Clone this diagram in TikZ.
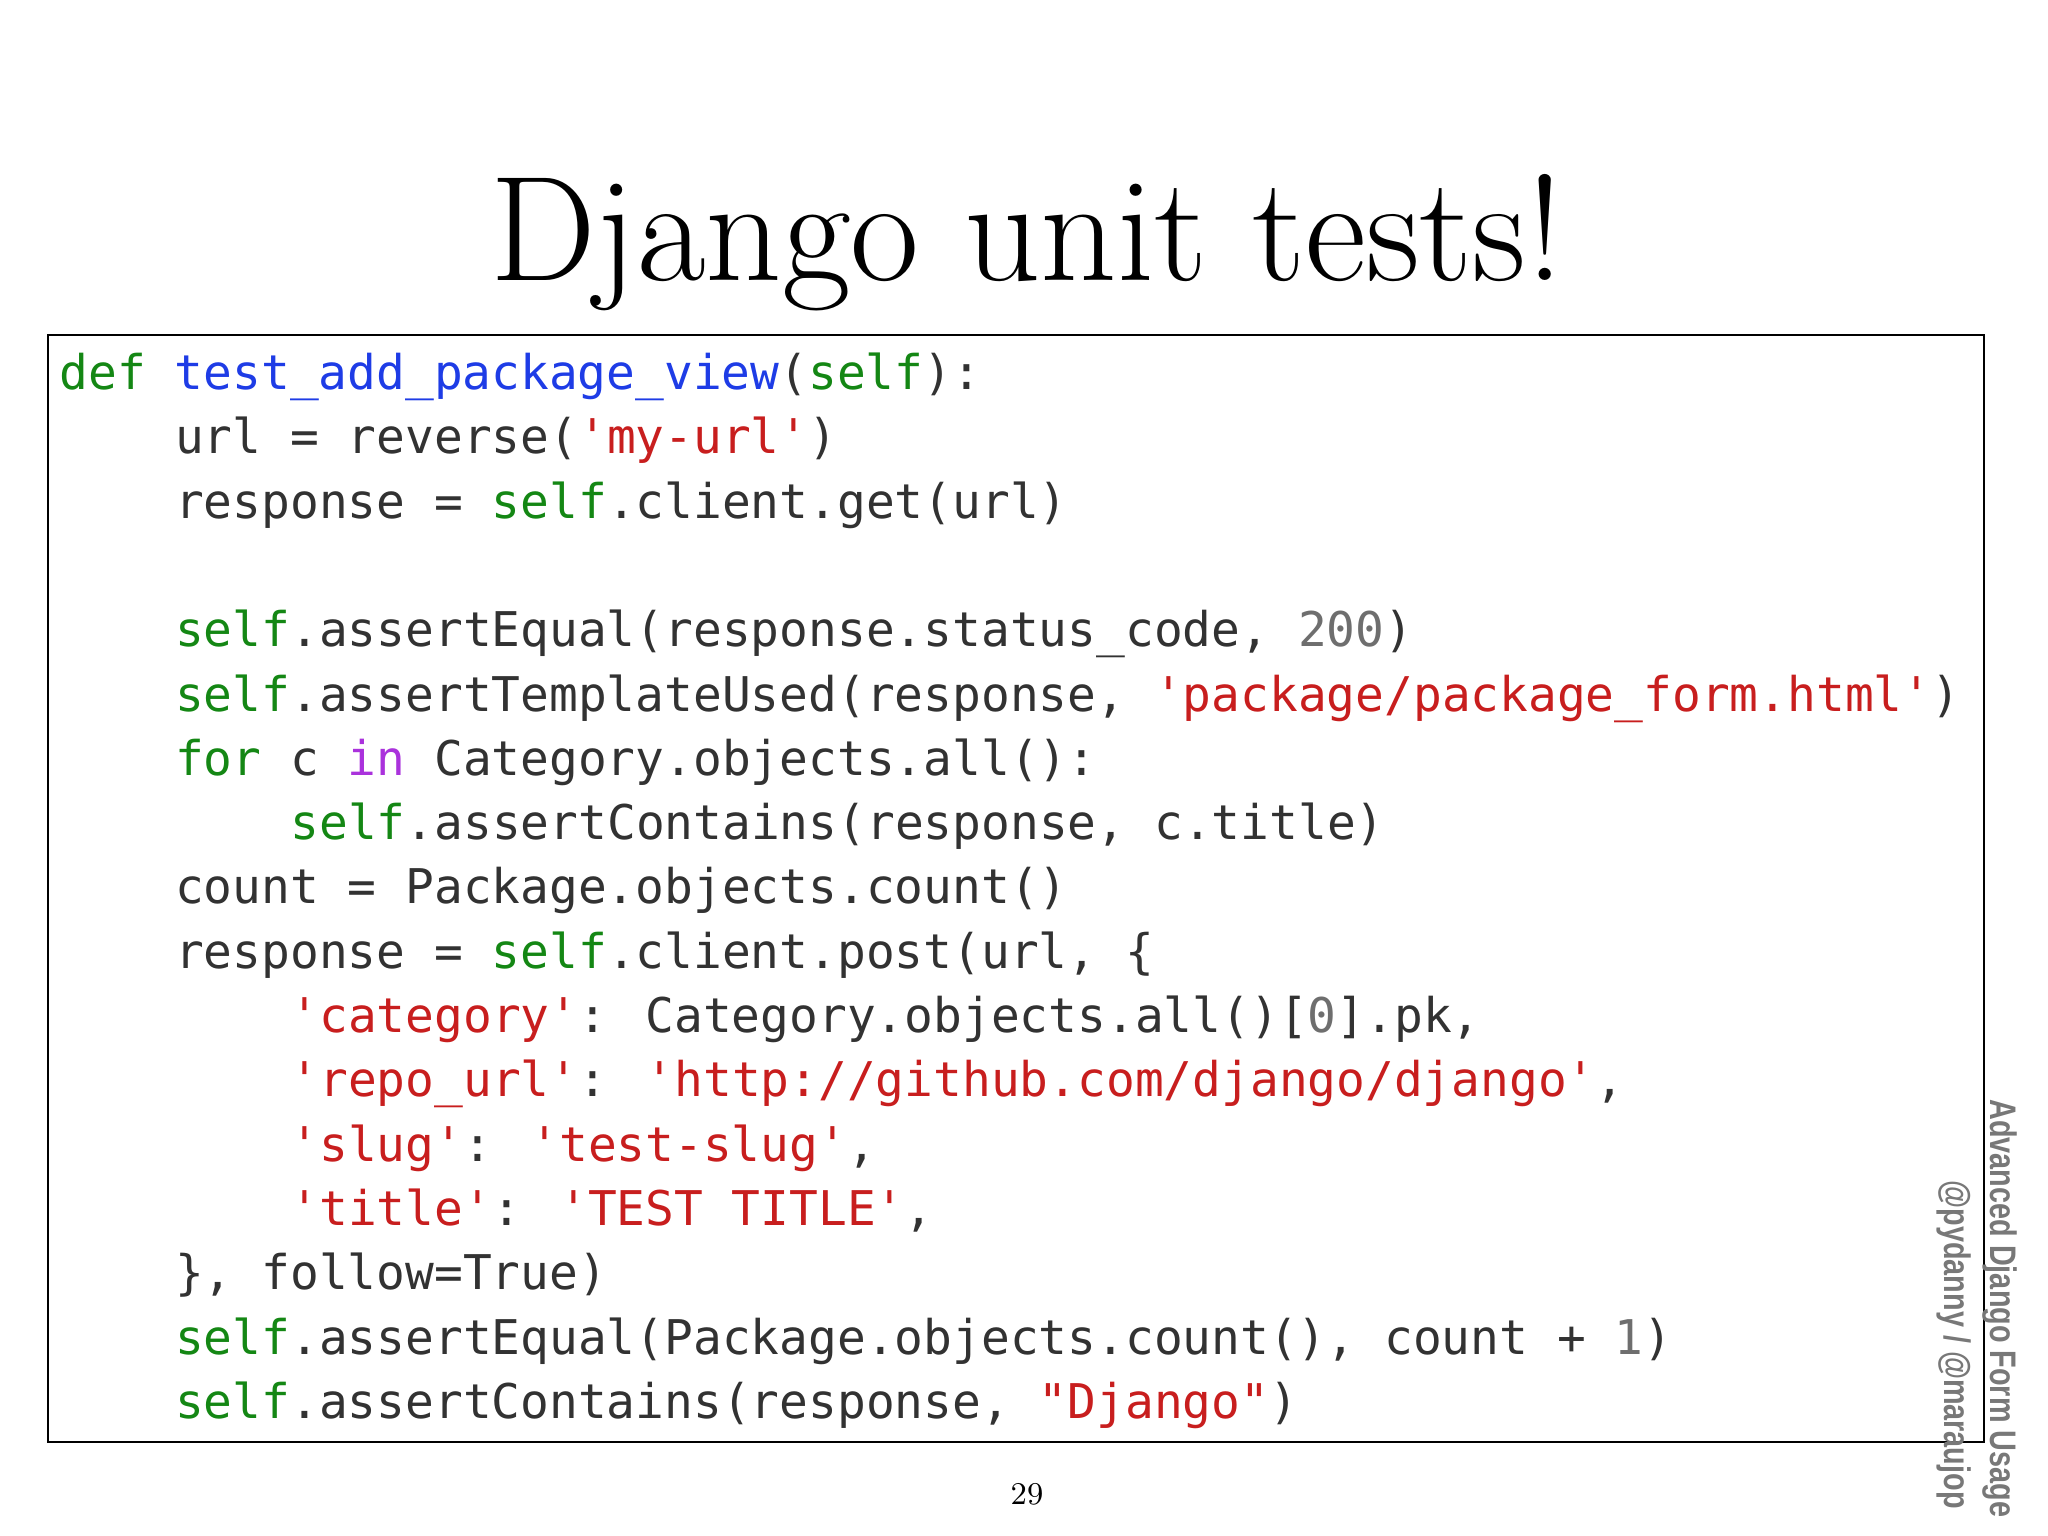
\documentclass[tikz,border=0pt]{standalone}
\usepackage{fontspec}
\newfontfamily\code{DejaVu Sans Mono}
\newfontfamily\side{Liberation Sans}
\definecolor{kw}{RGB}{20,135,20}
\definecolor{fn}{RGB}{30,60,230}
\definecolor{st}{RGB}{200,30,30}
\definecolor{nm}{RGB}{110,110,110}
\definecolor{pu}{RGB}{170,50,220}
\definecolor{tx}{RGB}{50,50,50}
\definecolor{sd}{RGB}{120,120,120}
\newcommand\Kw[1]{\textcolor{kw}{#1}}
\newcommand\Fn[1]{\textcolor{fn}{#1}}
\newcommand\St[1]{\textcolor{st}{#1}}
\newcommand\Nm[1]{\textcolor{nm}{#1}}
\newcommand\Pu[1]{\textcolor{pu}{#1}}
\begin{document}
\begin{tikzpicture}[x=0.01cm,y=-0.01cm,
  codeline/.style={anchor=base west,inner sep=0,text=tx,font=\code\fontsize{13.6pt}{16pt}\selectfont}]
\useasboundingbox (0,0) rectangle (2048,1536);
\fill[white] (0,0) rectangle (2048,1536);
\node[anchor=base,inner sep=0,font=\fontsize{42.5pt}{50pt}\selectfont] (title) at (1027,280) {Django unit tests!};
\draw[line width=0.8pt,black] (48,335) rectangle (1984,1442);
\def\cx#1{\fpeval{59+28.85*#1}}
\def\cy#1{\fpeval{389.5+64.3*#1}}
\node[codeline] (l0) at (\cx{0},\cy{0}) {\Kw{def} \Fn{test\_add\_package\_view}(\Kw{self}):};
\node[codeline] (l1) at (\cx{4},\cy{1}) {url = reverse(\St{'my-url'})};
\node[codeline] (l2) at (\cx{4},\cy{2}) {response = \Kw{self}.client.get(url)};
\node[codeline] (l4) at (\cx{4},\cy{4}) {\Kw{self}.assertEqual(response.status\_code, \Nm{200})};
\node[codeline] (l5) at (\cx{4},\cy{5}) {\Kw{self}.assertTemplateUsed(response, \St{'package/package\_form.html'})};
\node[codeline] (l6) at (\cx{4},\cy{6}) {\Kw{for} c \Pu{in} Category.objects.all():};
\node[codeline] (l7) at (\cx{8},\cy{7}) {\Kw{self}.assertContains(response, c.title)};
\node[codeline] (l8) at (\cx{4},\cy{8}) {count = Package.objects.count()};
\node[codeline] (l9) at (\cx{4},\cy{9}) {response = \Kw{self}.client.post(url, \{};
\node[codeline] (l10) at (\cx{8},\cy{10}) {\St{'category'}: Category.objects.all()[\Nm{0}].pk,};
\node[codeline] (l11) at (\cx{8},\cy{11}) {\St{'repo\_url'}: \St{'http://github.com/django/django'},};
\node[codeline] (l12) at (\cx{8},\cy{12}) {\St{'slug'}: \St{'test-slug'},};
\node[codeline] (l13) at (\cx{8},\cy{13}) {\St{'title'}: \St{'TEST TITLE'},};
\node[codeline] (l14) at (\cx{4},\cy{14}) {\}, follow=True)};
\node[codeline] (l15) at (\cx{4},\cy{15}) {\Kw{self}.assertEqual(Package.objects.count(), count + \Nm{1})};
\node[codeline] (l16) at (\cx{4},\cy{16}) {\Kw{self}.assertContains(response, \St{"Django"})};
\node[anchor=base,inner sep=0,font=\fontsize{9pt}{10pt}\selectfont] (pg) at (1027,1504) {29};
\begin{scope}
\clip (0,0) rectangle (2048,1536);
\node[anchor=north west,rotate=-90,inner sep=0,text=sd,font=\side\bfseries\fontsize{10.5pt}{12pt}\selectfont,xscale=0.78] (s1) at (2018,1099) {Advanced Django Form Usage};
\node[anchor=north west,rotate=-90,inner sep=0,text=sd,font=\side\bfseries\fontsize{10.5pt}{12pt}\selectfont,xscale=0.78] (s2) at (1972,1180) {@pydanny / @maraujop};
\end{scope}
\end{tikzpicture}
\end{document}
